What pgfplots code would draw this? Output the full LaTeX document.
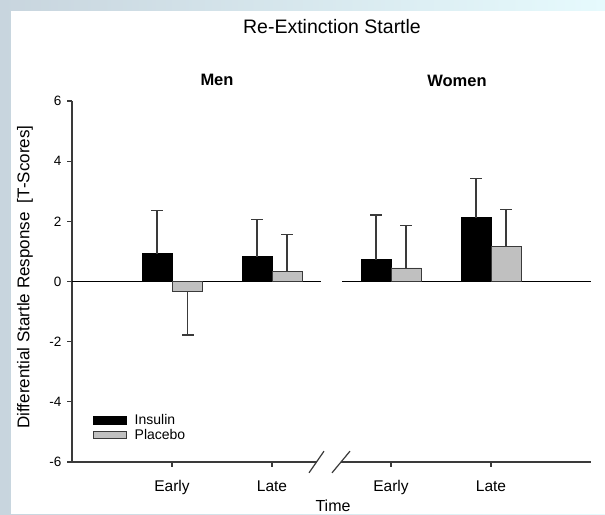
\documentclass[border=0pt]{standalone}
\usepackage{pgfplots}
\pgfplotsset{compat=1.18}
\usepackage{fontspec}
\setmainfont{Liberation Sans}
\definecolor{bgleft}{HTML}{C8D5DE}
\definecolor{bgright}{HTML}{E6FAFD}
\definecolor{axgray}{HTML}{3A3A3A}
\definecolor{plgray}{HTML}{C0C0C0}
\begin{document}
\begin{tikzpicture}[x=1pt,y=1pt]
\shade[left color=bgleft, right color=bgright] (0,0) rectangle (605,514);
\fill[white] (11,0) rectangle (605,503);
\begin{axis}[
  at={(72pt,52pt)}, anchor=south west, scale only axis,
  width=519pt, height=361pt,
  xmin=0, xmax=5.19, ymin=-6, ymax=6,
  clip=false,
  axis x line*=bottom, axis y line*=left,
  axis line style={-},
  x axis line style={draw=none},
  y axis line style={line width=1.3pt, color=axgray},
  tick align=outside, major tick length=5pt,
  tick style={line width=1.1pt, color=axgray},
  ytick={-6,-4,-2,0,2,4,6},
  xtick={1,2,3.19,4.19},
  xticklabels={Early,Late,Early,Late},
  /pgf/number format/assume math mode=true,
  yticklabel style={font=\fontsize{13.5}{15}\selectfont, xshift=-2pt},
  xticklabel style={font=\fontsize{15.5}{18}\selectfont, yshift=-10pt},
  bar width=0.3, bar shift=0pt,
  error bars/error bar style={line width=1.2pt, color=axgray},
  error bars/error mark options={rotate=90, mark size=6pt, line width=1.2pt, color=axgray},
  legend image code/.code={\draw[#1, line width=0.9pt] (0pt,-3.8pt) rectangle (33pt,3.8pt);},
  legend style={at={(axis cs:0.21,-4.40)}, anchor=north west, draw=none, fill=none,
    inner sep=0pt, font=\fontsize{14}{14}\selectfont, row sep=1.5pt,
    nodes={inner sep=0.6pt},
    /tikz/every odd column/.append style={column sep=7pt}},
  legend cell align=left,
]
% zero line (broken)
\addplot[black, line width=1.2pt, forget plot] coordinates {(0,0) (2.49,0)};
\addplot[black, line width=1.2pt, forget plot] coordinates {(2.70,0) (5.19,0)};
% Insulin
\addplot[ybar, fill=black, draw=black, line width=0.9pt,
  error bars/.cd, y dir=plus, y explicit]
  coordinates {(0.85,0.92) +- (0,1.43) (1.85,0.82) +- (0,1.25) (3.04,0.72) +- (0,1.49) (4.04,2.12) +- (0,1.31)};
\addlegendentry{Insulin}
% Placebo (positive)
\addplot[ybar, fill=plgray, draw=axgray, line width=0.9pt,
  error bars/.cd, y dir=plus, y explicit]
  coordinates {(2.15,0.32) +- (0,1.25) (3.34,0.45) +- (0,1.40) (4.34,1.17) +- (0,1.22)};
\addlegendentry{Placebo}
% Placebo (negative)
\addplot[ybar, fill=plgray, draw=axgray, line width=0.9pt, forget plot,
  error bars/.cd, y dir=minus, y explicit]
  coordinates {(1.155,-0.34) +- (0,1.44)};
% broken bottom axis line
\draw[axgray, line width=1.3pt] (axis cs:0,-6) -- (axis cs:2.445,-6);
\draw[axgray, line width=1.3pt] (axis cs:2.69,-6) -- (axis cs:5.19,-6);
\draw[axgray, line width=1.2pt] (axis cs:2.37,-6.36) -- (axis cs:2.52,-5.64);
\draw[axgray, line width=1.2pt] (axis cs:2.60,-6.36) -- (axis cs:2.78,-5.64);
\end{axis}
\node[font=\fontsize{19.5}{22}\selectfont] at (332,487) {Re-Extinction Startle};
\node[font=\bfseries\fontsize{16.5}{19}\selectfont] at (217,434) {Men};
\node[font=\bfseries\fontsize{16.5}{19}\selectfont] at (457,433) {Women};
\node[font=\fontsize{16}{19}\selectfont] at (333,8) {Time};
\node[font=\fontsize{17}{19}\selectfont, rotate=90] at (25,237) {Differential Startle Response\ \ [T-Scores]};
\pgfresetboundingbox
\useasboundingbox (0,0) rectangle (605,514);
\end{tikzpicture}
\end{document}
